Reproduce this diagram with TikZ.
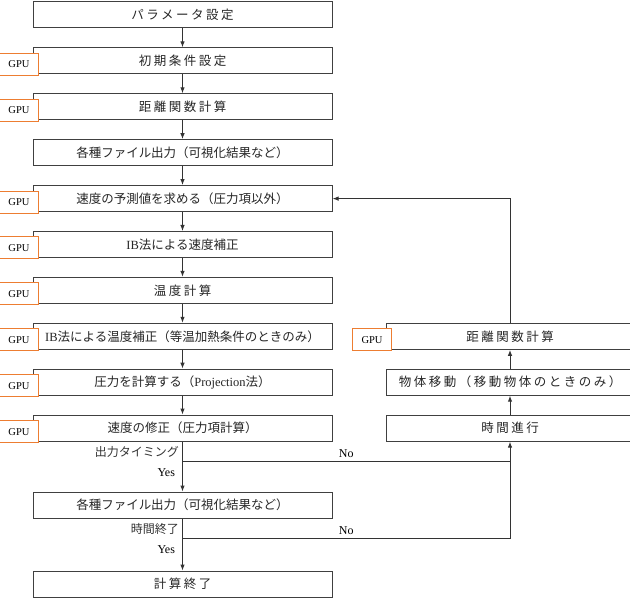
\documentclass[tikz,border=0pt]{standalone}
\usepackage{fontspec}
\setmainfont{Liberation Serif}
\newfontfamily\jp{Noto Sans CJK JP}
\newfontfamily\jpwide[LetterSpace=20]{Noto Sans CJK JP}
\usetikzlibrary{arrows.meta, positioning}
\definecolor{gpuorange}{RGB}{237,125,49}
\tikzset{
  process/.style={rectangle, minimum width=299pt, minimum height=26pt, text centered, draw=black!75, line width=1pt, fill=white, text=black!85, font=\jp\fontsize{12.5}{15}\selectfont},
  widetext/.style={font=\jpwide\fontsize{12.5}{15}\selectfont},
  sidebox/.style={process, minimum width=248pt},
  gpu/.style={rectangle, minimum width=39pt, minimum height=22pt, draw=gpuorange, line width=1pt, fill=white, font=\fontsize{10.5}{12}\selectfont},
  cond/.style={font=\jp\fontsize{12}{14}\selectfont, text=black!80},
  answer/.style={font=\fontsize{12}{14}\selectfont},
  arrow/.style={line width=1pt, draw=black!80, -{Latex[length=6pt,width=4.5pt]}},
  line/.style={line width=1pt, draw=black!80}
}

\begin{document}
\begin{tikzpicture}[x=1pt, y=1pt, node distance=18.9pt and 53pt]

  \useasboundingbox (0,0) rectangle (630,-599);

  \node (param) [process, widetext] at (182.5,-15) {パラメータ設定};
  \node (init) [process, widetext, below=of param] {初期条件設定};
  \node (dist) [process, widetext, below=of init] {距離関数計算};
  \node (out1) [process, below=of dist] {各種ファイル出力（可視化結果など）};
  \node (predict) [process, below=of out1] {速度の予測値を求める（圧力項以外）};
  \node (ibvel) [process, below=of predict] {{\rmfamily IB}法による速度補正};
  \node (temp) [process, widetext, below=of ibvel] {温度計算};
  \node (ibtemp) [process, below=of temp] {{\rmfamily IB}法による温度補正（等温加熱条件のときのみ）};
  \node (press) [process, below=of ibtemp] {圧力を計算する（{\rmfamily Projection}法）};
  \node (velcorr) [process, below=of press] {速度の修正（圧力項計算）};
  \node (out2) [process, below=50pt of velcorr] {各種ファイル出力（可視化結果など）};
  \node (finish) [process, widetext, below=52pt of out2] {計算終了};

  \node (tstep) [sidebox, widetext, right=of velcorr] {時間進行};
  \node (move) [sidebox, widetext, above=of tstep] {物体移動（移動物体のときのみ）};
  \node (dist2) [sidebox, widetext, above=of move] {距離関数計算};

  \coordinate [below=19.5pt of velcorr] (chk1);
  \coordinate [below=19.5pt of out2] (chk2);

  \foreach \a/\b in {param/init, init/dist, dist/out1, out1/predict, predict/ibvel, ibvel/temp, temp/ibtemp, ibtemp/press, press/velcorr, velcorr/out2, out2/finish}
    \draw [arrow] (\a) -- (\b);

  \node (timing) [cond, above left=0pt and 0pt of chk1] {出力タイミング};
  \node (yes1) [answer, below left=4pt and 4pt of chk1] {Yes};
  \node (endtime) [cond, above left=0pt and 0pt of chk2] {時間終了};
  \node (yes2) [answer, below left=4pt and 4pt of chk2] {Yes};

  \draw [arrow] (chk1) -| node (no1) [answer, above, pos=0.25] {No} (tstep);
  \draw [line] (chk2) -| node (no2) [answer, above, pos=0.25] {No} (tstep.south |- chk1);
  \draw [arrow] (tstep) -- (move);
  \draw [arrow] (move) -- (dist2);
  \draw [arrow] (dist2) |- (predict);

  % GPU tags over the left edges
  \foreach \n in {init, dist, predict, ibvel, temp, ibtemp, press, velcorr, dist2}
    \node (gpu-\n) [gpu] at ([xshift=-13.5pt, yshift=-3.5pt]\n.west) {GPU};

\end{tikzpicture}
\end{document}
